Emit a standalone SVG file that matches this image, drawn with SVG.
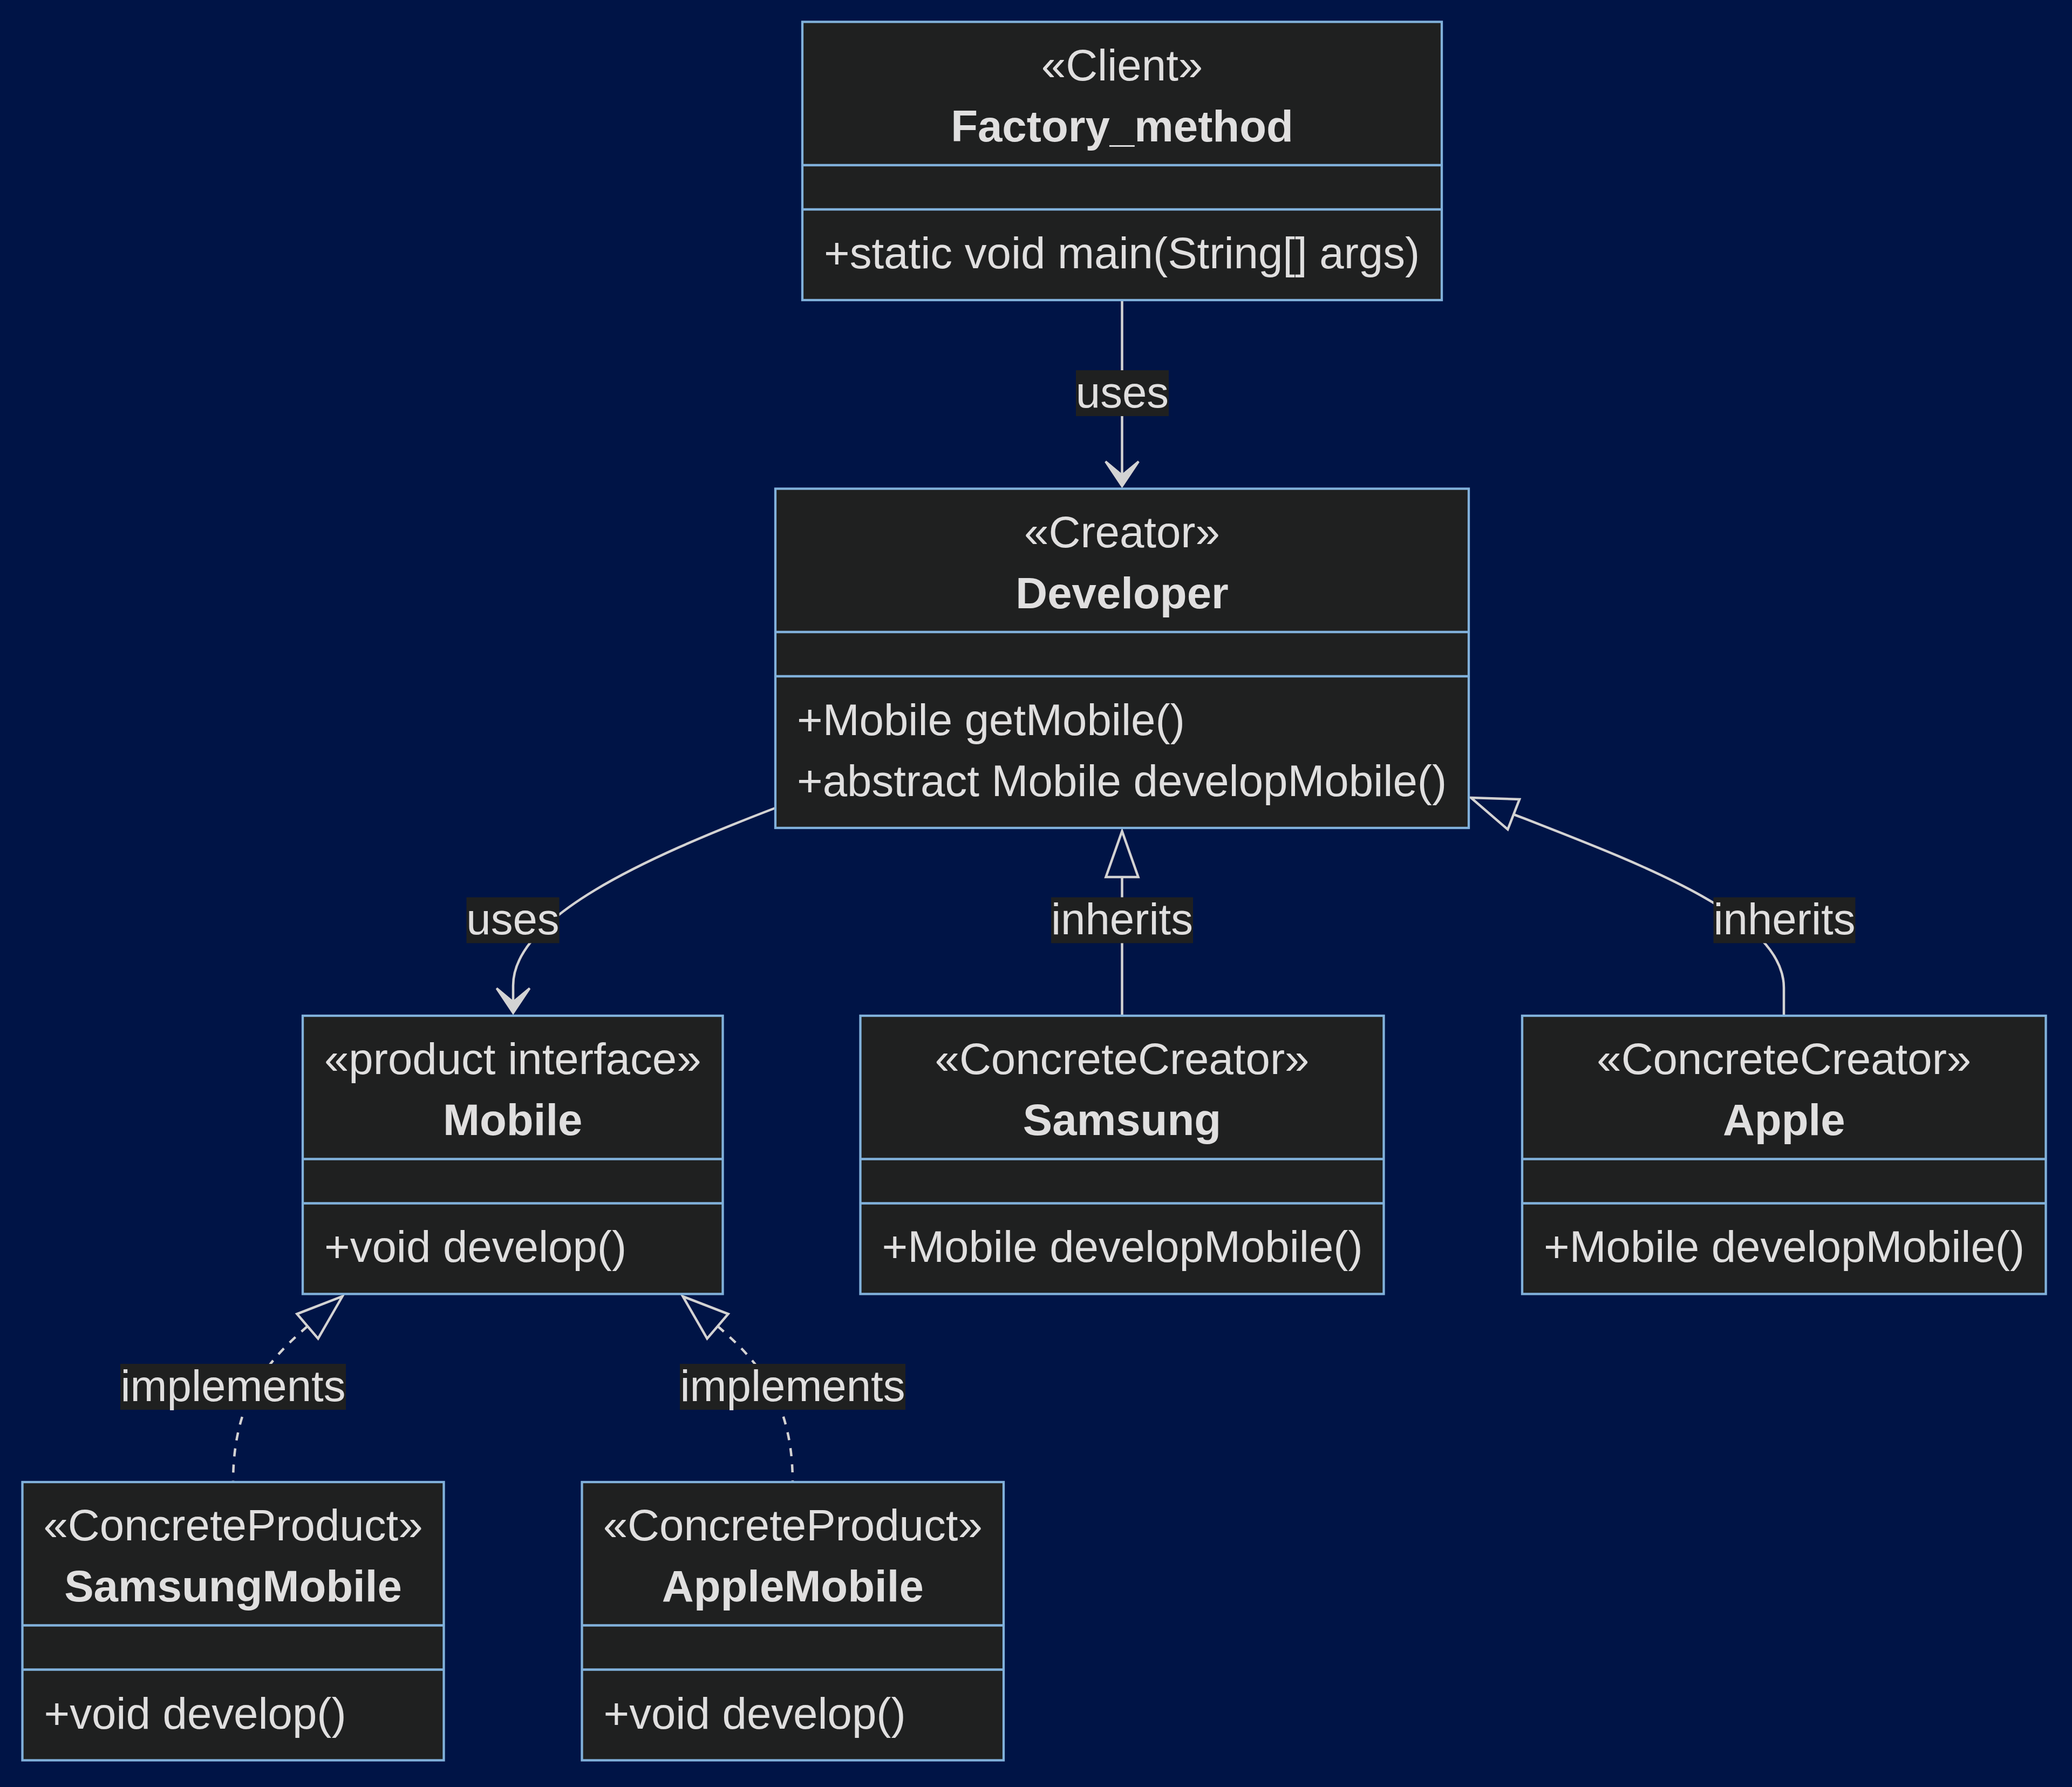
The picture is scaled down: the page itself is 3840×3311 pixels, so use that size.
<svg xmlns="http://www.w3.org/2000/svg" xmlns:xlink="http://www.w3.org/1999/xlink" width="3840" height="3311" viewBox="0 0 3840 3311">
<style>
.box{fill:#1f2020;stroke:#81b1db;stroke-width:4.3}
.dv{stroke:#81b1db;stroke-width:4.3}
.t{font-family:"Liberation Sans",Arial,Helvetica,sans-serif;font-size:81.6px;fill:#e0dfdf}
.c{text-anchor:middle}
.b{font-weight:bold}
.edge{fill:none;stroke:#d3d3d3;stroke-width:4.5}
.dash{stroke-dasharray:15 15}
.lbl{fill:#1f2020}
.dep{fill:#d3d3d3;stroke:#d3d3d3;stroke-width:4;stroke-linejoin:miter}
.ext{fill:none;stroke:#d3d3d3;stroke-width:4.5}
</style>
<defs>
<path id="depHead" class="dep" d="M0,0 L-30.6,-45.9 L0,-20.4 L30.6,-45.9 Z"/>
<path id="extHead" class="ext" d="M0,0 L30,85 L-30,85 Z"/>
</defs>
<rect x="0" y="0" width="3840" height="3311" fill="#001446"/>

<g id="connectors">
  <path class="edge" d="M2079.5,556 L2079.5,885"/>
  <use xlink:href="#depHead" href="#depHead" transform="translate(2079.5,901)"/>
  <path class="edge" d="M1437,1497 C1193.7,1590 951,1700 951,1826 L951,1862"/>
  <use xlink:href="#depHead" href="#depHead" transform="translate(951,1877)"/>
  <path class="edge" d="M2079.5,1882 L2079.5,1625"/>
  <use xlink:href="#extHead" href="#extHead" transform="translate(2079.5,1540)"/>
  <path class="edge" d="M3306,1882 L3306,1830 C3306,1700 3047.5,1603.1 2805.2,1508.8"/>
  <use xlink:href="#extHead" href="#extHead" transform="translate(2726,1478) rotate(-68.7)"/>
  <path class="edge dash" d="M570,2457.3 C490.3,2525.6 432,2600 432,2746"/>
  <use xlink:href="#extHead" href="#extHead" transform="translate(634.5,2402) rotate(49.4)"/>
  <path class="edge dash" d="M1330,2457.3 C1409.7,2525.6 1469,2600 1469,2746"/>
  <use xlink:href="#extHead" href="#extHead" transform="translate(1265.5,2402) rotate(-49.4)"/>

  <rect class="lbl" x="1994" y="686" width="172" height="85"/>
  <text class="t c" x="2080" y="755">uses</text>
  <rect class="lbl" x="864.5" y="1662.5" width="172" height="85"/>
  <text class="t c" x="950.5" y="1731">uses</text>
  <rect class="lbl" x="1948" y="1662.5" width="263" height="85"/>
  <text class="t c" x="2079.5" y="1731">inherits</text>
  <rect class="lbl" x="3175.5" y="1662.5" width="263" height="85"/>
  <text class="t c" x="3307" y="1731">inherits</text>
  <rect class="lbl" x="223" y="2527" width="418" height="85"/>
  <text class="t c" x="432" y="2596">implements</text>
  <rect class="lbl" x="1260" y="2527" width="418" height="85"/>
  <text class="t c" x="1469" y="2596">implements</text>
</g>

<g id="Factory_method">
  <rect class="box" x="1487" y="40.5" width="1185" height="515.5"/>
  <line class="dv" x1="1487" y1="306" x2="2672" y2="306"/>
  <line class="dv" x1="1487" y1="388" x2="2672" y2="388"/>
  <text class="t c" x="2079.5" y="148.5">«Client»</text>
  <text class="t c b" x="2079.5" y="262">Factory_method</text>
  <text class="t" x="1527" y="497">+static void main(String[] args)</text>
</g>

<g id="Developer">
  <rect class="box" x="1437" y="905.5" width="1285" height="628.5"/>
  <line class="dv" x1="1437" y1="1171" x2="2722" y2="1171"/>
  <line class="dv" x1="1437" y1="1253" x2="2722" y2="1253"/>
  <text class="t c" x="2079.5" y="1013.5">«Creator»</text>
  <text class="t c b" x="2079.5" y="1127">Developer</text>
  <text class="t" x="1477" y="1362">+Mobile getMobile()</text>
  <text class="t" x="1477" y="1475">+abstract Mobile developMobile()</text>
</g>

<g id="Mobile">
  <rect class="box" x="561" y="1882" width="778.5" height="515.5"/>
  <line class="dv" x1="561" y1="2147.5" x2="1339.5" y2="2147.5"/>
  <line class="dv" x1="561" y1="2229.5" x2="1339.5" y2="2229.5"/>
  <text class="t c" x="950.25" y="1990">«product interface»</text>
  <text class="t c b" x="950.25" y="2103">Mobile</text>
  <text class="t" x="601" y="2338">+void develop()</text>
</g>

<g id="Samsung">
  <rect class="box" x="1594.5" y="1882" width="970" height="515.5"/>
  <line class="dv" x1="1594.5" y1="2147.5" x2="2564.5" y2="2147.5"/>
  <line class="dv" x1="1594.5" y1="2229.5" x2="2564.5" y2="2229.5"/>
  <text class="t c" x="2079.5" y="1990">«ConcreteCreator»</text>
  <text class="t c b" x="2079.5" y="2103">Samsung</text>
  <text class="t" x="1634.5" y="2338">+Mobile developMobile()</text>
</g>

<g id="Apple">
  <rect class="box" x="2821" y="1882" width="970.5" height="515.5"/>
  <line class="dv" x1="2821" y1="2147.5" x2="3791.5" y2="2147.5"/>
  <line class="dv" x1="2821" y1="2229.5" x2="3791.5" y2="2229.5"/>
  <text class="t c" x="3306.25" y="1990">«ConcreteCreator»</text>
  <text class="t c b" x="3306.25" y="2103">Apple</text>
  <text class="t" x="2861" y="2338">+Mobile developMobile()</text>
</g>

<g id="SamsungMobile">
  <rect class="box" x="41.5" y="2746" width="781" height="515.5"/>
  <line class="dv" x1="41.5" y1="3011.5" x2="822.5" y2="3011.5"/>
  <line class="dv" x1="41.5" y1="3093.5" x2="822.5" y2="3093.5"/>
  <text class="t c" x="432" y="2854">«ConcreteProduct»</text>
  <text class="t c b" x="432" y="2967">SamsungMobile</text>
  <text class="t" x="81.5" y="3202.5">+void develop()</text>
</g>

<g id="AppleMobile">
  <rect class="box" x="1078.5" y="2746" width="781.5" height="515.5"/>
  <line class="dv" x1="1078.5" y1="3011.5" x2="1860" y2="3011.5"/>
  <line class="dv" x1="1078.5" y1="3093.5" x2="1860" y2="3093.5"/>
  <text class="t c" x="1469.25" y="2854">«ConcreteProduct»</text>
  <text class="t c b" x="1469.25" y="2967">AppleMobile</text>
  <text class="t" x="1118.5" y="3202.5">+void develop()</text>
</g>
</svg>
